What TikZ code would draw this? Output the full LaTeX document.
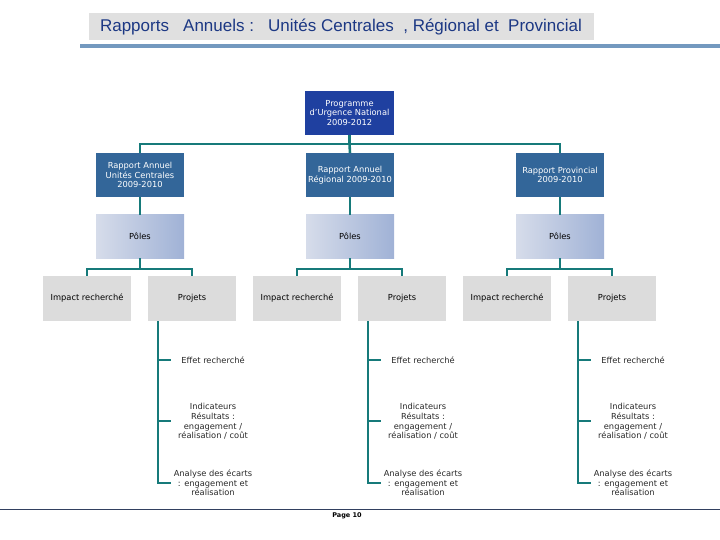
\documentclass[tikz,border=0pt]{standalone}
\usepackage{fontspec}
\setmainfont{DejaVu Sans}
\newfontfamily\titlefont{Liberation Sans}
\definecolor{titlegray}{RGB}{224,224,224}
\definecolor{titleblue}{RGB}{28,56,132}
\definecolor{ruleblue}{RGB}{115,153,191}
\definecolor{progblue}{RGB}{31,64,160}
\definecolor{steel}{RGB}{51,102,153}
\definecolor{teal}{RGB}{22,122,122}
\definecolor{boxgray}{RGB}{220,220,220}
\definecolor{poleL}{RGB}{214,220,234}
\definecolor{poleR}{RGB}{160,178,214}
\definecolor{footline}{RGB}{50,64,96}
\definecolor{txt}{RGB}{40,40,40}
\tikzset{
  small/.style={font=\fontsize{8.3}{9.7}\selectfont, align=center},
  progbox/.style={small, fill=progblue, text=white, minimum width=89pt, minimum height=44pt, inner sep=1pt},
  rapbox/.style={small, fill=steel, text=white, minimum width=88pt, minimum height=44pt, inner sep=1pt},
  polebox/.style={small, left color=poleL, right color=poleR, text=black, minimum width=88pt, minimum height=43pt, inner sep=1pt},
  graybox/.style={small, fill=boxgray, text=black, minimum width=88pt, minimum height=45pt, inner sep=1pt},
  leaf/.style={small, text=txt, inner sep=0pt},
  conn/.style={draw=teal, line width=2.6pt},
}
\begin{document}
\begin{tikzpicture}[x=1pt,y=-1pt]
\useasboundingbox (0,0) rectangle (720,540);
% title
\node[fill=titlegray, minimum width=505pt, minimum height=27pt, inner sep=0pt, text=titleblue,
  font=\titlefont\fontsize{17}{19}\selectfont] (title) at (341,27)
  {Rapports\ \ \ Annuels :\ \ \ Unités Centrales\ \ , Régional et\ \ Provincial};
\coordinate (ruleL) at (80,46);
\coordinate (ruleR) at (720,46);
\draw[ruleblue, line width=3.5pt] (ruleL) -- (ruleR);

% top
\node[progbox] (prog) at (349.5,113) {Programme\\d’Urgence National\\2009-2012};
\coordinate (j0) at (349.5,144);

% level 2
\node[rapbox] (r1) at (140,175) {Rapport Annuel\\Unités Centrales\\2009-2010};
\node[rapbox] (r2) at (350,175) {Rapport Annuel\\Régional 2009-2010};
\node[rapbox] (r3) at (560,175) {Rapport Provincial\\2009-2010};

% poles
\node[polebox] (p1) at (140,236.5) {Pôles};
\node[polebox] (p2) at (350,236.5) {Pôles};
\node[polebox] (p3) at (560,236.5) {Pôles};

% level 4
\node[graybox] (i1) at (87,298.5) {Impact recherché};
\node[graybox] (q1) at (192,298.5) {Projets};
\node[graybox] (i2) at (297,298.5) {Impact recherché};
\node[graybox] (q2) at (402,298.5) {Projets};
\node[graybox] (i3) at (507,298.5) {Impact recherché};
\node[graybox] (q3) at (612,298.5) {Projets};

\coordinate (k1) at (140,269);
\coordinate (k2) at (350,269);
\coordinate (k3) at (560,269);

% connectors
\draw[conn] (prog.south) -- (j0);
\draw[conn] (j0) -| (r1.north);
\draw[conn] (j0) -| (r3.north);
\draw[conn] (j0) -- (r2.north);
\foreach \n in {1,2,3}{
  \draw[conn] (r\n.south) -- (p\n.north);
  \draw[conn] (p\n.south) -- (k\n);
  \draw[conn] (k\n) -| (i\n.north);
  \draw[conn] (k\n) -| (q\n.north);
}

% leaves
\foreach \n/\vx in {1/158,2/368,3/578}{
  \coordinate (vt\n) at (\vx,321);
  \coordinate (vb\n) at (\vx,484.3);
  \coordinate (ta\n) at (\vx,360);
  \coordinate (tb\n) at (\vx,421);
  \coordinate (tc\n) at (\vx,483);
  \coordinate (ea\n) at (\vx+13,360);
  \coordinate (eb\n) at (\vx+13,421);
  \coordinate (ec\n) at (\vx+13,483);
  \draw[conn] (vt\n) -- (vb\n);
  \draw[conn] (ta\n) -- (ea\n);
  \draw[conn] (tb\n) -- (eb\n);
  \draw[conn] (tc\n) -- (ec\n);
  \node[leaf] (eff\n) at (\vx+55,360) {Effet recherché};
  \node[leaf] (ind\n) at (\vx+55,421.5) {Indicateurs\\Résultats :\\engagement /\\réalisation / coût};
  \node[leaf] (ana\n) at (\vx+55,483) {Analyse des écarts\\: engagement et\\réalisation};
}

% footer
\coordinate (fL) at (0,509.5);
\coordinate (fR) at (720,509.5);
\draw[footline, line width=0.8pt] (fL) -- (fR);
\node[font=\bfseries\fontsize{6.5}{7}\selectfont, inner sep=0pt] (page) at (347,516) {Page 10};
\end{tikzpicture}
\end{document}
